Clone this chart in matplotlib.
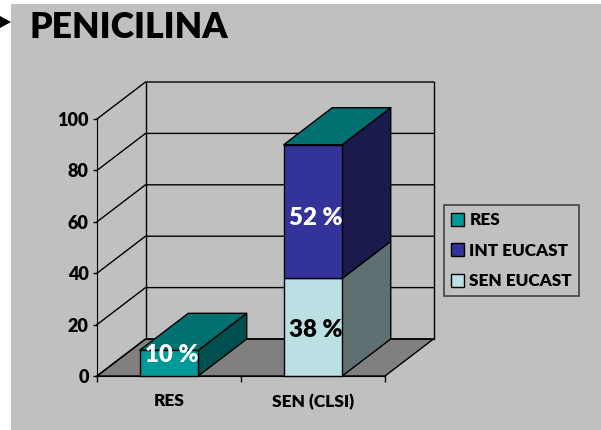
import matplotlib
matplotlib.use('Agg')
import matplotlib.pyplot as plt
from matplotlib.patches import Polygon, Patch, Rectangle

plt.rcParams['font.family'] = ['Lato', 'DejaVu Sans']
plt.rcParams['font.weight'] = 'heavy'

categories = ['RES', 'SEN (CLSI)']
res_values = [10, 0]
int_values = [0, 52]
sen_values = [0, 38]
y_ticks = [0, 20, 40, 60, 80, 100]
bar_labels = [(0, 8, '10 %', 'white'), (1, 18, '38 %', 'black'), (1, 61.5, '52 %', 'white')]

W, H = 601, 430
# depth of the 3d box, in data units of the front plane
DX = 48.5 / 144
DY = 37 / 2.57
BAR_W = 0.406

# front, top, side
colors = {
    'RES': ('#009999', '#007070', '#004f4f'),
    'INT EUCAST': ('#333399', '#007070', '#1a1a4d'),
    'SEN EUCAST': ('#bbe0e3', '#007070', '#5e7072'),
}

fig = plt.figure(figsize=(W / 100, H / 100), dpi=100, facecolor='white')
fig.add_artist(Rectangle((11 / W, 0), 590 / W, 426 / H, transform=fig.transFigure,
                         fc='#c0c0c0', ec='none', zorder=-2))
fig.add_artist(Polygon([(0, 1 - 16 / H), (11 / W, 1 - 22 / H), (0, 1 - 28 / H)],
                       transform=fig.transFigure, fc='black', ec='none', zorder=-1))
fig.text(30 / W, 1 - 27 / H, 'PENICILINA', fontsize=25.7, va='center', ha='left')

ax = fig.add_axes([97 / W, (H - 376) / H, 288 / W, 257 / H])
ax.patch.set_visible(False)
ax.set_xlim(0, 2)
ax.set_ylim(0, 100)


def poly(pts, fc, z):
    ax.add_patch(Polygon(pts, closed=True, fc=fc, ec='black', lw=1.0, zorder=z,
                         clip_on=False, joinstyle='round'))


# floor
poly([(0, 0), (2, 0), (2 + DX, DY), (DX, DY)], '#808080', 1)
# walls and grid
for t in y_ticks:
    ax.plot([0, DX, 2 + DX], [t, t + DY, t + DY], color='black', lw=1.0, zorder=2, clip_on=False)
ax.plot([DX, DX], [DY, 100 + DY], color='black', lw=1.0, zorder=2, clip_on=False)
ax.plot([2 + DX, 2 + DX], [DY, 100 + DY], color='black', lw=1.0, zorder=2, clip_on=False)

# stacked boxes, bottom to top
z = 3
for i in range(len(categories)):
    x0 = i + 0.5 - BAR_W / 2
    x1 = i + 0.5 + BAR_W / 2
    base = 0
    for name, vals in (('SEN EUCAST', sen_values), ('INT EUCAST', int_values), ('RES', res_values)):
        v = vals[i]
        front, top, side = colors[name]
        if v > 0:
            poly([(x1, base), (x1 + DX, base + DY), (x1 + DX, base + v + DY), (x1, base + v)], side, z)
            poly([(x0, base), (x1, base), (x1, base + v), (x0, base + v)], front, z)
        base += v
    poly([(x0, base), (x1, base), (x1 + DX, base + DY), (x0 + DX, base + DY)], colors['RES'][1], z)
    z += 1

for i, y, s, c in bar_labels:
    ax.text(i + 0.5 + 0.02, y, s, color=c, fontsize=17.3, ha='center', va='center', zorder=10)

ax.spines['top'].set_visible(False)
ax.spines['right'].set_visible(False)
ax.spines['left'].set_zorder(5)
ax.spines['bottom'].set_zorder(5)
ax.set_yticks(y_ticks)
ax.set_xticks([0, 1, 2])
ax.set_xticklabels([])
ax.set_xticks([0.5, 1.5], minor=True)
ax.set_xticklabels(categories, minor=True)
ax.tick_params(axis='x', which='minor', length=0, pad=12.5, labelsize=12.4)
ax.tick_params(axis='x', which='major', length=4, width=1, direction='out')
ax.tick_params(axis='y', length=3, width=1, pad=3, labelsize=13)

handles = [Patch(fc=colors[n][0], ec='black', lw=1.0) for n in ['RES', 'INT EUCAST', 'SEN EUCAST']]
leg = fig.legend(handles, ['RES', 'INT EUCAST', 'SEN EUCAST'], loc='upper left',
                 bbox_to_anchor=(444 / W, 1 - 205 / H), borderaxespad=0, fontsize=12.3,
                 fancybox=False, facecolor='none', framealpha=None, edgecolor='#222222',
                 handlelength=0.76, handleheight=0.76, handletextpad=0.3, labelspacing=0.85,
                 borderpad=0.42)
leg.get_frame().set_linewidth(1.2)

fig.savefig('out.png', dpi=100)
